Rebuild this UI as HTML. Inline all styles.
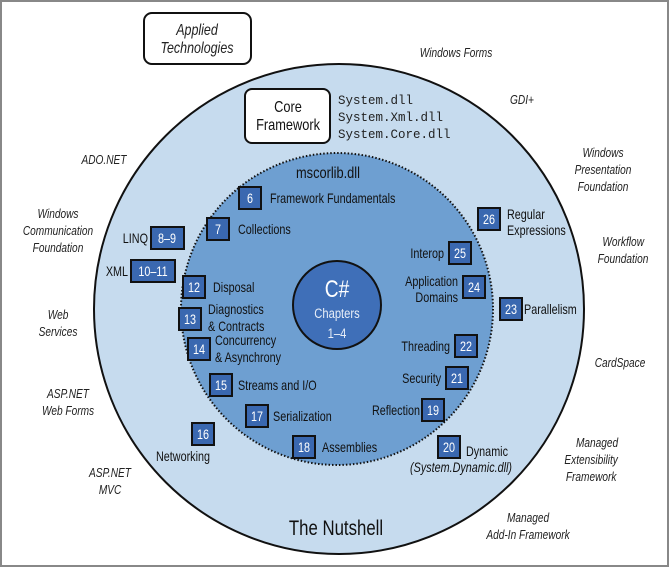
<!DOCTYPE html>
<html><head><meta charset="utf-8"><style>
html,body{margin:0;padding:0;background:#fff;}
svg{display:block;}
text{font-family:"Liberation Sans",sans-serif;transform-box:fill-box;}
.it{font-style:italic;font-size:13px;fill:#222;transform-origin:center;transform:scaleX(.78);}
.lb{font-size:13.5px;fill:#111;transform-origin:left center;transform:scaleX(.8);}
.lb.e{transform-origin:right center;}
.bn{font-size:13.5px;fill:#fff;text-anchor:middle;transform-origin:center;transform:scaleX(.8);}
.c{transform-origin:center;transform:scaleX(.8);}
.mono{font-family:"Liberation Mono",monospace;font-size:12.5px;fill:#222;}
</style></head><body>
<svg width="670" height="570" viewBox="0 0 670 570" xmlns="http://www.w3.org/2000/svg">
<rect x="1" y="1" width="667" height="565" fill="#fff" stroke="#888" stroke-width="2"/>
<circle cx="339" cy="309" r="245" fill="#c6dbee" stroke="#111" stroke-width="2"/>
<circle cx="337" cy="309" r="156" fill="#6e9fd1" stroke="#111" stroke-width="2" stroke-dasharray="1.5 2"/>
<circle cx="337" cy="305" r="44" fill="#3f6fb8" stroke="#111" stroke-width="2"/>
<text x="337" y="297" text-anchor="middle" class="c" style="font-size:24px;fill:#fff">C#</text>
<text x="337" y="318" text-anchor="middle" class="c" style="font-size:14px;fill:#e8eef8">Chapters</text>
<text x="337" y="338" text-anchor="middle" class="c" style="font-size:14px;fill:#e8eef8">1–4</text>

<rect x="144" y="13" width="107" height="51" rx="8" fill="#fff" stroke="#111" stroke-width="2"/>
<text x="197" y="35" text-anchor="middle" class="it" style="font-size:16px">Applied</text>
<text x="197" y="53" text-anchor="middle" class="it" style="font-size:16px">Technologies</text>
<rect x="245" y="89" width="85" height="54" rx="7" fill="#fff" stroke="#111" stroke-width="2"/>
<text x="288" y="112" text-anchor="middle" class="c" style="font-size:16px;fill:#111">Core</text>
<text x="288" y="130" text-anchor="middle" class="c" style="font-size:16px;fill:#111">Framework</text>
<text x="338" y="104" class="mono">System.dll</text>
<text x="338" y="121" class="mono">System.Xml.dll</text>
<text x="338" y="138" class="mono">System.Core.dll</text>
<text x="328" y="178" text-anchor="middle" class="c" style="font-size:16px;fill:#111">mscorlib.dll</text>

<text x="456" y="57" text-anchor="middle" class="it">Windows Forms</text>
<text x="522" y="104" text-anchor="middle" class="it">GDI+</text>
<text x="603" y="157" text-anchor="middle" class="it">Windows</text>
<text x="603" y="174" text-anchor="middle" class="it">Presentation</text>
<text x="603" y="191" text-anchor="middle" class="it">Foundation</text>
<text x="623" y="246" text-anchor="middle" class="it">Workflow</text>
<text x="623" y="263" text-anchor="middle" class="it">Foundation</text>
<text x="620" y="367" text-anchor="middle" class="it">CardSpace</text>
<text x="597" y="447" text-anchor="middle" class="it">Managed</text>
<text x="591" y="464" text-anchor="middle" class="it">Extensibility</text>
<text x="591" y="481" text-anchor="middle" class="it">Framework</text>
<text x="528" y="522" text-anchor="middle" class="it">Managed</text>
<text x="528" y="539" text-anchor="middle" class="it">Add-In Framework</text>
<text x="104" y="164" text-anchor="middle" class="it">ADO.NET</text>
<text x="58" y="218" text-anchor="middle" class="it">Windows</text>
<text x="58" y="235" text-anchor="middle" class="it">Communication</text>
<text x="58" y="252" text-anchor="middle" class="it">Foundation</text>
<text x="58" y="319" text-anchor="middle" class="it">Web</text>
<text x="58" y="336" text-anchor="middle" class="it">Services</text>
<text x="68" y="398" text-anchor="middle" class="it">ASP.NET</text>
<text x="68" y="415" text-anchor="middle" class="it">Web Forms</text>
<text x="110" y="477" text-anchor="middle" class="it">ASP.NET</text>
<text x="110" y="494" text-anchor="middle" class="it">MVC</text>
<text x="336" y="535" text-anchor="middle" class="c" style="font-size:21px;fill:#111">The Nutshell</text>

<g fill="#3a68b0" stroke="#111" stroke-width="2">
<rect x="239" y="187" width="22" height="22"/>
<rect x="207" y="218" width="22" height="22"/>
<rect x="151" y="227" width="33" height="22"/>
<rect x="131" y="260" width="44" height="22"/>
<rect x="183" y="276" width="22" height="22"/>
<rect x="179" y="308" width="22" height="22"/>
<rect x="188" y="338" width="22" height="22"/>
<rect x="210" y="374" width="22" height="22"/>
<rect x="192" y="423" width="22" height="22"/>
<rect x="246" y="405" width="22" height="22"/>
<rect x="293" y="436" width="22" height="22"/>
<rect x="422" y="399" width="22" height="22"/>
<rect x="438" y="436" width="22" height="22"/>
<rect x="446" y="367" width="22" height="22"/>
<rect x="455" y="335" width="22" height="22"/>
<rect x="500" y="298" width="22" height="22"/>
<rect x="463" y="276" width="22" height="22"/>
<rect x="449" y="242" width="22" height="22"/>
<rect x="478" y="208" width="22" height="22"/>
</g>
<text x="250" y="203" class="bn">6</text>
<text x="218" y="234" class="bn">7</text>
<text x="167" y="243" class="bn">8–9</text>
<text x="153" y="276" class="bn">10–11</text>
<text x="194" y="292" class="bn">12</text>
<text x="190" y="324" class="bn">13</text>
<text x="199" y="354" class="bn">14</text>
<text x="221" y="390" class="bn">15</text>
<text x="203" y="439" class="bn">16</text>
<text x="257" y="421" class="bn">17</text>
<text x="304" y="452" class="bn">18</text>
<text x="433" y="415" class="bn">19</text>
<text x="449" y="452" class="bn">20</text>
<text x="457" y="383" class="bn">21</text>
<text x="466" y="351" class="bn">22</text>
<text x="511" y="314" class="bn">23</text>
<text x="474" y="292" class="bn">24</text>
<text x="460" y="258" class="bn">25</text>
<text x="489" y="224" class="bn">26</text>

<text x="270" y="203" class="lb">Framework Fundamentals</text>
<text x="238" y="234" class="lb">Collections</text>
<text x="148" y="243" class="lb e" text-anchor="end">LINQ</text>
<text x="128" y="276" class="lb e" text-anchor="end">XML</text>
<text x="213" y="292" class="lb">Disposal</text>
<text x="208" y="314" class="lb">Diagnostics</text>
<text x="208" y="331" class="lb">&amp; Contracts</text>
<text x="215" y="345" class="lb">Concurrency</text>
<text x="215" y="362" class="lb">&amp; Asynchrony</text>
<text x="238" y="390" class="lb">Streams and I/O</text>
<text x="156" y="461" class="lb">Networking</text>
<text x="273" y="421" class="lb">Serialization</text>
<text x="322" y="452" class="lb">Assemblies</text>
<text x="420" y="415" class="lb e" text-anchor="end">Reflection</text>
<text x="466" y="456" class="lb">Dynamic</text>
<text x="512" y="472" class="lb e" text-anchor="end" style="font-style:italic">(System.Dynamic.dll)</text>
<text x="441" y="383" class="lb e" text-anchor="end">Security</text>
<text x="450" y="351" class="lb e" text-anchor="end">Threading</text>
<text x="524" y="314" class="lb">Parallelism</text>
<text x="458" y="286" class="lb e" text-anchor="end">Application</text>
<text x="458" y="302" class="lb e" text-anchor="end">Domains</text>
<text x="444" y="258" class="lb e" text-anchor="end">Interop</text>
<text x="507" y="219" class="lb">Regular</text>
<text x="507" y="235" class="lb">Expressions</text>
</svg>
</body></html>
